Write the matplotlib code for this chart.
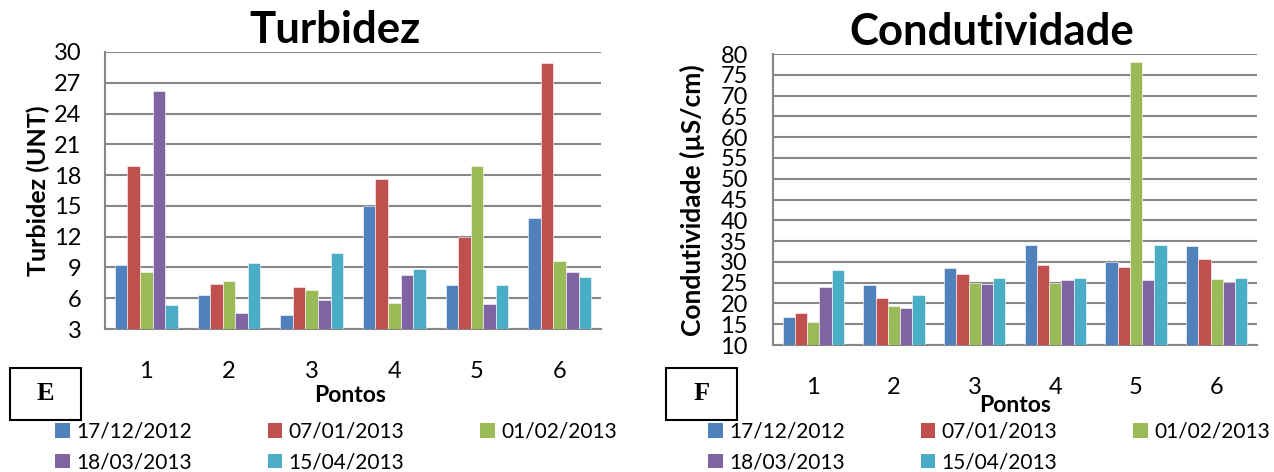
import numpy as np
import matplotlib
matplotlib.use("Agg")
import matplotlib.pyplot as plt
from matplotlib.patches import Patch, Rectangle

pontos = ["1", "2", "3", "4", "5", "6"]
datas = ["17/12/2012", "07/01/2013", "01/02/2013", "18/03/2013", "15/04/2013"]
cores = ["#4F81BD", "#C0504D", "#9BBB59", "#8064A2", "#4BACC6"]

# turbidez (UNT), one list per date
turb_1712 = [9.2, 6.3, 4.4, 15.0, 7.3, 13.8]
turb_0701 = [18.9, 7.4, 7.1, 17.6, 12.0, 28.9]
turb_0102 = [8.6, 7.7, 6.8, 5.5, 18.9, 9.6]
turb_1803 = [26.2, 4.6, 5.8, 8.3, 5.4, 8.6]
turb_1504 = [5.3, 9.4, 10.4, 8.8, 7.3, 8.1]

# condutividade (uS/cm)
cond_1712 = [16.8, 24.4, 28.5, 34.1, 30.0, 33.9]
cond_0701 = [17.6, 21.2, 27.0, 29.3, 28.7, 30.7]
cond_0102 = [15.6, 19.5, 24.9, 24.8, 78.0, 25.9]
cond_1803 = [24.0, 19.0, 24.6, 25.7, 25.7, 25.1]
cond_1504 = [28.1, 22.0, 26.1, 26.1, 34.1, 26.1]

turb = [turb_1712, turb_0701, turb_0102, turb_1803, turb_1504]
cond = [cond_1712, cond_0701, cond_0102, cond_1803, cond_1504]

plt.rcParams["font.family"] = ["Lato", "DejaVu Sans"]
W, H = 1274, 472
fig = plt.figure(figsize=(W / 100, H / 100), dpi=100)


def px(x0, y0, x1, y1):
    # pixel box -> figure fraction rect
    return [x0 / W, 1 - y1 / H, (x1 - x0) / W, (y1 - y0) / H]


def bar_panel(ax, series, ymin, ymax, step):
    x = np.arange(len(pontos))
    bw = 0.152
    for k, vals in enumerate(series):
        ax.bar(x + (k - 2) * bw, vals, width=bw, color=cores[k],
               edgecolor="white", linewidth=0.4, zorder=3)
    ax.set_xlim(-0.5, len(pontos) - 0.5)
    ax.set_ylim(ymin, ymax)
    ax.set_yticks(np.arange(ymin, ymax + 0.1, step))
    ax.set_xticks(x)
    ax.set_xticklabels(pontos)
    ax.grid(axis="y", color="#868686", linewidth=1.5, zorder=0)
    for s in ["top", "right"]:
        ax.spines[s].set_visible(False)
    for s in ["left", "bottom"]:
        ax.spines[s].set_color("#868686")
        ax.spines[s].set_linewidth(1.5)
    ax.tick_params(axis="both", length=0, labelsize=17)
    ax.tick_params(axis="x", pad=23)
    ax.tick_params(axis="y", pad=17)


ax1 = fig.add_axes(px(105, 52, 601, 329))
bar_panel(ax1, turb, 3, 30, 3)
ax2 = fig.add_axes(px(773, 54, 1257, 345))
bar_panel(ax2, cond, 10, 80, 5)
ax2.tick_params(axis="y", pad=18)

fig.text(335 / W, 1 - 30 / H, "Turbidez", fontsize=31.5, fontweight="bold",
         ha="center", va="center")
fig.text(992 / W, 1 - 32 / H, "Condutividade", fontsize=31.5, fontweight="bold",
         ha="center", va="center")
fig.text(38 / W, 1 - 191 / H, "Turbidez (UNT)", fontsize=18, fontweight="bold",
         rotation=90, ha="center", va="center")
fig.text(692 / W, 1 - 200 / H, "Condutividade (µS/cm)", fontsize=19,
         fontweight="bold", rotation=90, ha="center", va="center")
fig.text(350 / W, 1 - 395 / H, "Pontos", fontsize=16.5, fontweight="bold",
         ha="center", va="center")
fig.text(1015 / W, 1 - 405 / H, "Pontos", fontsize=16.5, fontweight="bold",
         ha="center", va="center")

# E / F boxes
for (bx0, by0, bx1, by1), lab in [((10, 368, 81, 420), "E"), ((666, 368, 737, 420), "F")]:
    fig.patches.append(Rectangle((bx0 / W, 1 - by1 / H), (bx1 - bx0) / W, (by1 - by0) / H,
                                 transform=fig.transFigure, fill=False,
                                 edgecolor="black", linewidth=1.5))
    fig.text((bx0 + bx1) / 2 / W, 1 - (by0 + by1) / 2 / H, lab, fontsize=19,
             fontweight="bold", family="Liberation Serif", ha="center", va="center")

# legend filled column by column -> reorder so rows read like the original
ordem = [0, 3, 1, 4, 2]
handles = [Patch(facecolor=cores[i], edgecolor="none") for i in ordem]
labels = [datas[i] for i in ordem]
for x0 in [55, 708]:
    fig.legend(handles, labels, loc="upper left", ncol=3, frameon=False,
               bbox_to_anchor=(x0 / W, 1 - 422 / H), borderpad=0, borderaxespad=0,
               fontsize=15, handlelength=0.7, handleheight=0.7,
               handletextpad=0.3, columnspacing=3.65, labelspacing=0.5)

fig.savefig("out.png", dpi=100)
